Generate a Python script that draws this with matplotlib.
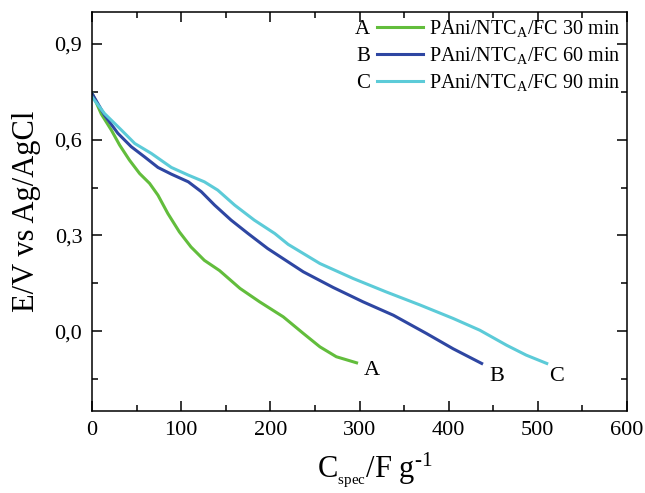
import matplotlib
matplotlib.use("Agg")
import matplotlib.pyplot as plt
from matplotlib.ticker import MultipleLocator, FuncFormatter

plt.rcParams['font.family'] = ['Liberation Serif', 'DejaVu Serif']
plt.rcParams['mathtext.fontset'] = 'custom'
plt.rcParams['mathtext.rm'] = 'Liberation Serif'
plt.rcParams['mathtext.it'] = 'Liberation Serif:italic'

# curve A - 30 min
a_x = [0, 10.5, 21.7, 31, 42, 53.4, 64.6, 74, 85, 98, 111, 126, 143, 166, 188,
       214.5, 237, 255.6, 274, 296.7]
a_y = [0.746, 0.68, 0.63, 0.583, 0.536, 0.494, 0.463, 0.426, 0.369, 0.311, 0.264,
       0.222, 0.19, 0.134, 0.092, 0.045, -0.007, -0.049, -0.08, -0.099]

# curve B - 60 min
b_x = [0, 14, 29, 44, 59, 74, 89, 108, 122.6, 137.5, 156, 175, 197, 220, 237,
       270.5, 304, 338, 375, 405, 437]
b_y = [0.745, 0.677, 0.62, 0.578, 0.546, 0.513, 0.492, 0.468, 0.437, 0.395, 0.348,
       0.306, 0.259, 0.217, 0.186, 0.137, 0.092, 0.05, -0.007, -0.055, -0.101]

# curve C - 90 min
c_x = [0, 14, 33, 48, 66.5, 89, 108, 126, 141, 160, 182, 205, 220, 255.6, 293,
       330, 368, 405, 435, 465, 487, 510]
c_y = [0.734, 0.682, 0.63, 0.588, 0.557, 0.513, 0.489, 0.468, 0.442, 0.395, 0.348,
       0.306, 0.272, 0.212, 0.165, 0.123, 0.082, 0.04, 0.003, -0.044, -0.075, -0.101]

series = [
    ('A', r'PAni/NTC$_\mathrm{A}$/FC 30 min', a_x, a_y, '#62bd3c'),
    ('B', r'PAni/NTC$_\mathrm{A}$/FC 60 min', b_x, b_y, '#2e46a2'),
    ('C', r'PAni/NTC$_\mathrm{A}$/FC 90 min', c_x, c_y, '#5ccbd8'),
]
# where the end letters sit (data coords)
end_labels = {'A': (313.6, -0.122), 'B': (453.7, -0.143), 'C': (521, -0.143)}

fig = plt.figure(figsize=(6.45, 4.93), dpi=100)
ax = fig.add_axes([92/645, 1 - 411/493, (627-92)/645, (411-12)/493])

for letter, lab, x, y, col in series:
    ax.plot(x, y, color=col, lw=2.2, label=lab)
    lx, ly = end_labels[letter]
    ax.text(lx, ly, letter, fontsize=16, ha='center', va='center')

ax.set_xlim(0, 600)
ax.set_ylim(-0.25, 1.0)
ax.xaxis.set_major_locator(MultipleLocator(100))
ax.xaxis.set_minor_locator(MultipleLocator(50))
ax.yaxis.set_major_locator(MultipleLocator(0.3))
ax.yaxis.set_minor_locator(MultipleLocator(0.15))
ax.yaxis.set_major_formatter(FuncFormatter(lambda v, p: ('%.1f' % v).replace('.', ',')))

ax.tick_params(which='both', direction='in', top=True, right=True, labelsize=16, width=1.1)
ax.tick_params(which='major', length=7, pad=7)
ax.tick_params(which='minor', length=4)
for s in ax.spines.values():
    s.set_linewidth(1.1)

ax.set_xlabel(r'C$_{_\mathrm{spec}}$/F g$^{\text{-1}}$', fontsize=22, labelpad=3)
ax.xaxis.set_label_coords(0.529, -0.1)
ax.xaxis.label.set_va('top')
ax.set_ylabel('E/V vs Ag/AgCl', fontsize=22, labelpad=10)

leg = ax.legend(loc='upper left', bbox_to_anchor=(377/645, 1 - 18/493), bbox_transform=fig.transFigure,
                frameon=False, fontsize=14.5, handlelength=2.3, handletextpad=0.3,
                labelspacing=0.3, borderpad=0, borderaxespad=0)

# letters in front of the legend lines, lined up with the drawn handles
fig.canvas.draw()
rend = fig.canvas.get_renderer()
for (letter, lab, x, y, col), h in zip(series, leg.get_lines()):
    bb = h.get_window_extent(rend)
    yc = (bb.y0 + bb.y1) / 2
    fig.text((bb.x0 - 7) / 645, (yc - 0.33 * 15 * 100 / 72) / 493, letter,
             fontsize=15, ha='right', va='baseline')

fig.savefig('out.png', dpi=100)
